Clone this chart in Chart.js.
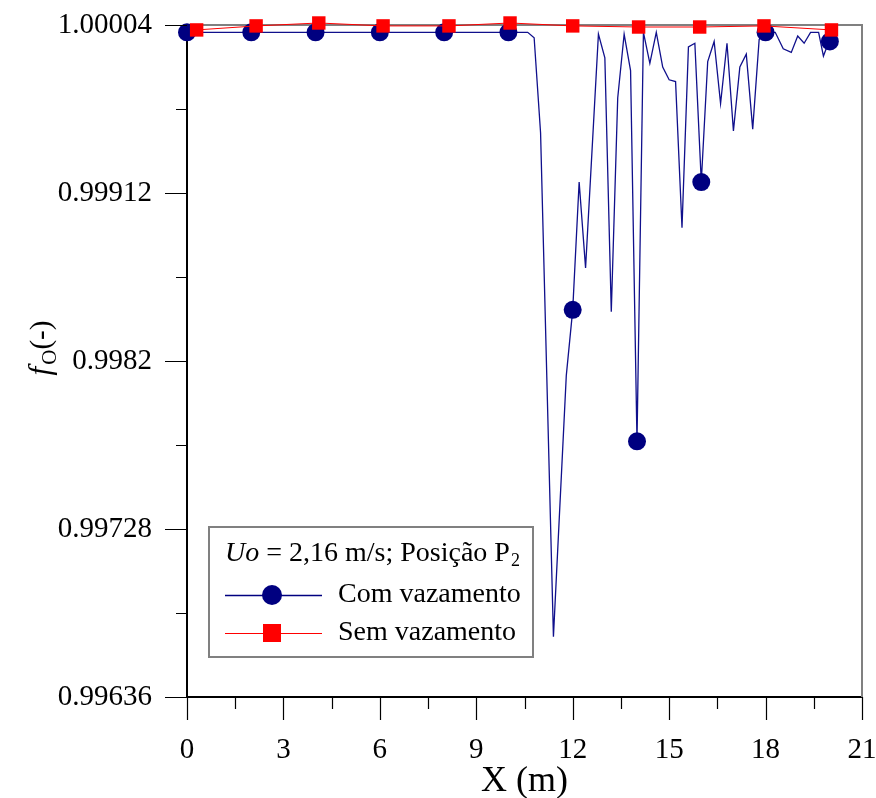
<!DOCTYPE html>
<html><head><meta charset="utf-8">
<script src="https://cdn.jsdelivr.net/npm/chart.js@4/dist/chart.umd.min.js"></script>
<style>html,body{margin:0;padding:0;background:#fff;} #wrap{width:876px;height:798px;position:relative}</style>
</head><body><div id="wrap"><canvas id="c" width="876" height="798"></canvas></div>
<script>
// ---- data ----
const seriesNames = ['Com vazamento', 'Sem vazamento'];
const legendTitle = ['Uo', ' = 2,16 m/s; Posição P', '2'];
const xTitle = 'X (m)';
const yTitle = ['f', 'O', '(-)'];

const xTicks = [0, 3, 6, 9, 12, 15, 18, 21];
const xTickLabels = ['0', '3', '6', '9', '12', '15', '18', '21'];
const yTicks = [0.99636, 0.99728, 0.9982, 0.99912, 1.00004];
const yTickLabels = ['0.99636', '0.99728', '0.9982', '0.99912', '1.00004'];

// Com vazamento: full line
const blueX = [0, 2, 4, 6, 8, 10, 10.6, 10.8, 11.0, 11.4, 11.8, 12.0, 12.2, 12.4, 12.8, 13.0, 13.2, 13.4, 13.6, 13.8, 14.0,
  14.2, 14.4, 14.6, 14.8, 15.0, 15.2, 15.4, 15.6, 15.8, 16.0, 16.2, 16.4, 16.6, 16.8, 17.0, 17.2, 17.4, 17.6, 17.8, 18.0,
  18.3, 18.55, 18.8, 19.0, 19.2, 19.4, 19.65, 19.8, 19.95, 20.0];
const blueY = [1.0000, 1.0000, 1.0000, 1.0000, 1.0000, 1.0000, 1.0000, 0.99997, 0.99945, 0.99669, 0.99812, 0.99848, 0.99918, 0.99871, 0.99999, 0.99986, 0.99847, 0.99964, 0.99999, 0.99979, 0.99776,
  1.0000, 0.99983, 1.0000, 0.99981, 0.99974, 0.99973, 0.99893, 0.99992, 0.99994, 0.99918, 0.99984, 0.99995, 0.99961, 0.99994, 0.99946, 0.99981, 0.99988, 0.99947, 0.99996, 1.0000,
  1.0000, 0.99991, 0.99989, 0.99998, 0.99994, 1.0000, 1.0000, 0.99987, 0.99994, 0.99995];
// Com vazamento: markers
const blueMarkX = [0, 2, 4, 6, 8, 10, 12, 14, 16, 18, 20];
const blueMarkY = [1.0000, 1.0000, 1.0000, 1.0000, 1.0000, 1.0000, 0.99848, 0.99776, 0.99918, 1.0000, 0.99995];
// Sem vazamento
const redX = [0.3, 2.15, 4.1, 6.1, 8.15, 10.05, 12.0, 14.05, 15.95, 17.95, 20.05];
const redY = [1.000013, 1.000035, 1.000051, 1.000035, 1.000035, 1.000051, 1.000035, 1.000029, 1.000029, 1.000035, 1.000013];

// ---- chart ----
const FONT = '"Liberation Serif", "Times New Roman", serif';
const BLUE = '#000080';
const RED = '#ff0000';
const pts = (xs, ys) => xs.map((x, i) => ({x: x, y: ys[i]}));

const frameAndTicks = {
  id: 'frameAndTicks',
  beforeDatasetsDraw(chart) {
    const ctx = chart.ctx, a = chart.chartArea;
    ctx.save();
    ctx.strokeStyle = '#808080';
    ctx.lineWidth = 2;
    ctx.beginPath();
    ctx.moveTo(a.left, a.top); ctx.lineTo(a.right, a.top); ctx.lineTo(a.right, a.bottom);
    ctx.stroke();
    ctx.restore();
  },
  afterDraw(chart) {
    const ctx = chart.ctx, a = chart.chartArea;
    const xs = chart.scales.x, ys = chart.scales.y;
    ctx.save();
    ctx.strokeStyle = '#000';
    ctx.lineWidth = 1.2;
    ctx.beginPath();
    for (let i = 0; i < xTicks.length; i++) {
      const px = Math.round(xs.getPixelForValue(xTicks[i])) + 0.5;
      ctx.moveTo(px, a.bottom); ctx.lineTo(px, a.bottom + 23);
      if (i < xTicks.length - 1) {
        const mx = Math.round(xs.getPixelForValue((xTicks[i] + xTicks[i + 1]) / 2)) + 0.5;
        ctx.moveTo(mx, a.bottom); ctx.lineTo(mx, a.bottom + 12);
      }
    }
    for (let i = 0; i < yTicks.length; i++) {
      const py = Math.round(ys.getPixelForValue(yTicks[i])) + 0.5;
      ctx.moveTo(a.left, py); ctx.lineTo(a.left - 22, py);
      if (i < yTicks.length - 1) {
        const my = Math.round(ys.getPixelForValue((yTicks[i] + yTicks[i + 1]) / 2)) + 0.5;
        ctx.moveTo(a.left, my); ctx.lineTo(a.left - 11, my);
      }
    }
    ctx.stroke();

    ctx.fillStyle = '#000';
    ctx.textBaseline = 'alphabetic';
    ctx.font = '36px ' + FONT;
    ctx.textAlign = 'center';
    ctx.fillText(xTitle, (a.left + a.right) / 2, 791);

    ctx.translate(50, 348);
    ctx.rotate(-Math.PI / 2);
    ctx.textAlign = 'left';
    const f1 = 'italic 31px ' + FONT, f2 = '21px ' + FONT, f3 = '29px ' + FONT;
    ctx.font = f1; const w1 = ctx.measureText(yTitle[0]).width;
    ctx.font = f2; const w2 = ctx.measureText(yTitle[1]).width;
    ctx.font = f3; const w3 = ctx.measureText(yTitle[2]).width;
    let x0 = -(w1 + w2 + w3 + 2) / 2;
    ctx.font = f1; ctx.fillText(yTitle[0], x0, 0); x0 += w1 + 2;
    ctx.font = f2; ctx.fillText(yTitle[1], x0, 6); x0 += w2;
    ctx.font = f3; ctx.fillText(yTitle[2], x0, 0);
    ctx.restore();
  }
};

const legendBox = {
  id: 'legendBox',
  afterDatasetsDraw(chart) {
    const ctx = chart.ctx;
    ctx.save();
    ctx.fillStyle = '#fff';
    ctx.fillRect(209, 527, 324, 130);
    ctx.strokeStyle = '#808080';
    ctx.lineWidth = 2;
    ctx.strokeRect(209, 527, 324, 130);
    ctx.fillStyle = '#000';
    ctx.textBaseline = 'middle';
    ctx.textAlign = 'left';
    let x = 225; const y1 = 554;
    ctx.font = 'italic 28px ' + FONT; ctx.fillText(legendTitle[0], x, y1); x += ctx.measureText(legendTitle[0]).width;
    ctx.font = '28px ' + FONT; ctx.fillText(legendTitle[1], x, y1); x += ctx.measureText(legendTitle[1]).width;
    ctx.font = '18px ' + FONT; ctx.fillText(legendTitle[2], x + 1, y1 + 7);
    const y2 = 595, y3 = 633;
    ctx.lineWidth = 1.3;
    ctx.strokeStyle = BLUE;
    ctx.beginPath(); ctx.moveTo(225, y2 + 0.5); ctx.lineTo(322, y2 + 0.5); ctx.stroke();
    ctx.fillStyle = BLUE;
    ctx.beginPath(); ctx.arc(272, y2, 10, 0, Math.PI * 2); ctx.fill();
    ctx.strokeStyle = RED;
    ctx.lineWidth = 1;
    ctx.beginPath(); ctx.moveTo(225, y3 + 0.5); ctx.lineTo(322, y3 + 0.5); ctx.stroke();
    ctx.fillStyle = RED;
    ctx.fillRect(263, y3 - 9, 18, 18);
    ctx.fillStyle = '#000';
    ctx.font = '28px ' + FONT;
    ctx.fillText(seriesNames[0], 338, y2);
    ctx.fillText(seriesNames[1], 338, y3);
    ctx.restore();
  }
};

const noPad = s => { s.paddingTop = 0; s.paddingBottom = 0; s.paddingLeft = 0; s.paddingRight = 0; };

new Chart(document.getElementById('c').getContext('2d'), {
  type: 'scatter',
  data: {
    datasets: [
      {label: seriesNames[1], data: pts(redX, redY), showLine: true, borderColor: RED, borderWidth: 1,
        pointStyle: 'rect', pointRadius: 9.5, pointBackgroundColor: RED, pointBorderWidth: 0, clip: false},
      {label: seriesNames[0] + ' (marcadores)', data: pts(blueMarkX, blueMarkY), showLine: false,
        pointStyle: 'circle', pointRadius: 9, pointBackgroundColor: BLUE, pointBorderWidth: 0, clip: false},
      {label: seriesNames[0], data: pts(blueX, blueY), showLine: true, borderColor: '#10108c', borderWidth: 1.3,
        pointRadius: 0, tension: 0}
    ]
  },
  options: {
    responsive: false, animation: false, devicePixelRatio: 1,
    layout: {padding: {left: 0, top: 25, right: 14, bottom: 0}},
    plugins: {legend: {display: false}, tooltip: {enabled: false}},
    scales: {
      x: {
        type: 'linear', min: 0, max: 21,
        afterBuildTicks: s => { s.ticks = xTicks.map(v => ({value: v})); },
        afterFit: s => { s.height = 101; noPad(s); },
        ticks: {autoSkip: false, maxRotation: 0, padding: 36, color: '#000',
          font: {family: FONT, size: 29}, callback: (v, i) => xTickLabels[i]},
        grid: {display: false, drawTicks: false},
        border: {display: true, color: '#000', width: 2}
      },
      y: {
        type: 'linear', min: 0.99636, max: 1.00004,
        afterBuildTicks: s => { s.ticks = yTicks.map(v => ({value: v})); },
        afterFit: s => { s.width = 187; noPad(s); },
        ticks: {autoSkip: false, padding: 35, color: '#000',
          font: {family: FONT, size: 29}, callback: (v, i) => yTickLabels[i]},
        grid: {display: false, drawTicks: false},
        border: {display: true, color: '#000', width: 2}
      }
    }
  },
  plugins: [frameAndTicks, legendBox]
});
</script></body></html>
